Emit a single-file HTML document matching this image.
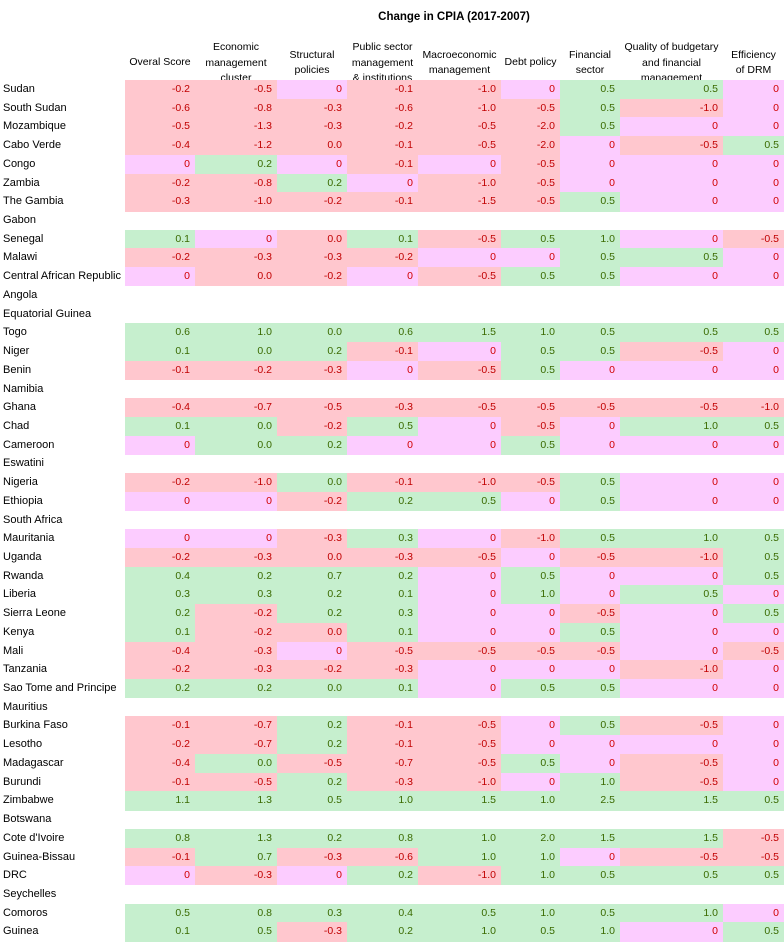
<!DOCTYPE html>
<html><head><meta charset="utf-8"><style>
body{margin:0;width:784px;height:942px;background:#fff;position:relative;font-family:"Liberation Sans",sans-serif;overflow:hidden}
div.a{position:absolute;white-space:nowrap}
.h{font-size:10.5px;color:#000;text-align:center;line-height:15px}
.lab{font-size:11px;color:#000;left:3px}
.c{font-size:10.5px;text-align:right;box-sizing:border-box;padding-right:5px;line-height:18.7px}
</style></head><body>
<div class="a" style="left:300px;top:11px;width:308px;text-align:center;font-size:11.5px;font-weight:bold">Change in CPIA (2017-2007)</div>
<div id="root"></div>
<script>
const colLefts=[125,195,277,347,418,501,560,620,723,784];
const headers=[["Overal Score"],["Economic","management","cluster"],["Structural","policies"],["Public sector","management","& institutions"],["Macroeconomic","management"],["Debt policy"],["Financial","sector"],["Quality of budgetary","and financial","management"],["Efficiency","of DRM"]];
const countries=["Sudan","South Sudan","Mozambique","Cabo Verde","Congo","Zambia","The Gambia","Gabon","Senegal","Malawi","Central African Republic","Angola","Equatorial Guinea","Togo","Niger","Benin","Namibia","Ghana","Chad","Cameroon","Eswatini","Nigeria","Ethiopia","South Africa","Mauritania","Uganda","Rwanda","Liberia","Sierra Leone","Kenya","Mali","Tanzania","Sao Tome and Principe","Mauritius","Burkina Faso","Lesotho","Madagascar","Burundi","Zimbabwe","Botswana","Cote d'Ivoire","Guinea-Bissau","DRC","Seychelles","Comoros","Guinea"];
const values=[
[-0.2,-0.5,0,-0.1,-1.0,0,0.5,0.5,0],
[-0.6,-0.8,-0.3,-0.6,-1.0,-0.5,0.5,-1.0,0],
[-0.5,-1.3,-0.3,-0.2,-0.5,-2.0,0.5,0,0],
[-0.4,-1.2,-0.01,-0.1,-0.5,-2.0,0,-0.5,0.5],
[0,0.2,0,-0.1,0,-0.5,0,0,0],
[-0.2,-0.8,0.2,0,-1.0,-0.5,0,0,0],
[-0.3,-1.0,-0.2,-0.1,-1.5,-0.5,0.5,0,0],
null,
[0.1,0,-0.01,0.1,-0.5,0.5,1.0,0,-0.5],
[-0.2,-0.3,-0.3,-0.2,0,0,0.5,0.5,0],
[0,-0.01,-0.2,0,-0.5,0.5,0.5,0,0],
null,null,
[0.6,1.0,0.01,0.6,1.5,1.0,0.5,0.5,0.5],
[0.1,0.01,0.2,-0.1,0,0.5,0.5,-0.5,0],
[-0.1,-0.2,-0.3,0,-0.5,0.5,0,0,0],
null,
[-0.4,-0.7,-0.5,-0.3,-0.5,-0.5,-0.5,-0.5,-1.0],
[0.1,0.01,-0.2,0.5,0,-0.5,0,1.0,0.5],
[0,0.01,0.2,0,0,0.5,0,0,0],
null,
[-0.2,-1.0,0.01,-0.1,-1.0,-0.5,0.5,0,0],
[0,0,-0.2,0.2,0.5,0,0.5,0,0],
null,
[0,0,-0.3,0.3,0,-1.0,0.5,1.0,0.5],
[-0.2,-0.3,-0.01,-0.3,-0.5,0,-0.5,-1.0,0.5],
[0.4,0.2,0.7,0.2,0,0.5,0,0,0.5],
[0.3,0.3,0.2,0.1,0,1.0,0,0.5,0],
[0.2,-0.2,0.2,0.3,0,0,-0.5,0,0.5],
[0.1,-0.2,-0.01,0.1,0,0,0.5,0,0],
[-0.4,-0.3,0,-0.5,-0.5,-0.5,-0.5,0,-0.5],
[-0.2,-0.3,-0.2,-0.3,0,0,0,-1.0,0],
[0.2,0.2,0.01,0.1,0,0.5,0.5,0,0],
null,
[-0.1,-0.7,0.2,-0.1,-0.5,0,0.5,-0.5,0],
[-0.2,-0.7,0.2,-0.1,-0.5,0,0,0,0],
[-0.4,0.01,-0.5,-0.7,-0.5,0.5,0,-0.5,0],
[-0.1,-0.5,0.2,-0.3,-1.0,0,1.0,-0.5,0],
[1.1,1.3,0.5,1.0,1.5,1.0,2.5,1.5,0.5],
null,
[0.8,1.3,0.2,0.8,1.0,2.0,1.5,1.5,-0.5],
[-0.1,0.7,-0.3,-0.6,1.0,1.0,0,-0.5,-0.5],
[0,-0.3,0,0.2,-1.0,1.0,0.5,0.5,0.5],
null,
[0.5,0.8,0.3,0.4,0.5,1.0,0.5,1.0,0],
[0.1,0.5,-0.3,0.2,1.0,0.5,1.0,0,0.5]
];
const root=document.getElementById('root');
const top0=80,rh=18.72;
function yRow(i){return top0+i*rh;}
function fmt(v){if(v===0)return "0";if(Math.abs(v)<0.05)return "0.0";return v.toFixed(1);}
headers.forEach((lines,j)=>{
  const n=lines.length;
  const startY=(n===3?40:n===2?47.5:55);
  lines.forEach((t,k)=>{
    const d=document.createElement('div');
    d.className='a h';
    
    
    d.style.left=colLefts[j]+'px';d.style.width=(colLefts[j+1]-colLefts[j])+'px';
    d.style.top=(startY+k*15.5)+'px';
    d.textContent=t;root.appendChild(d);
  });
});
countries.forEach((name,i)=>{
  const y=yRow(i);
  const l=document.createElement('div');
  l.className='a lab';
  
  
  l.style.top=y+'px';l.style.lineHeight=rh+'px';l.textContent=name;root.appendChild(l);
  const row=values[i];if(!row)return;
  row.forEach((v,j)=>{
    const c=document.createElement('div');
    c.className='a c';
    
    
    c.style.left=colLefts[j]+'px';c.style.width=(colLefts[j+1]-colLefts[j])+'px';
    c.style.top=y+'px';c.style.height=(rh+0.5)+'px';
    let bg,fg;
    if(v===0){bg='#fcccff';fg='#d00000';}
    else if(v<0){bg='#ffc7ce';fg='#c00000';}
    else{bg='#c6efce';fg='#3a6a00';}
    c.style.background=bg;c.style.color=fg;c.textContent=fmt(v);root.appendChild(c);
  });
});
</script>
</body></html>
